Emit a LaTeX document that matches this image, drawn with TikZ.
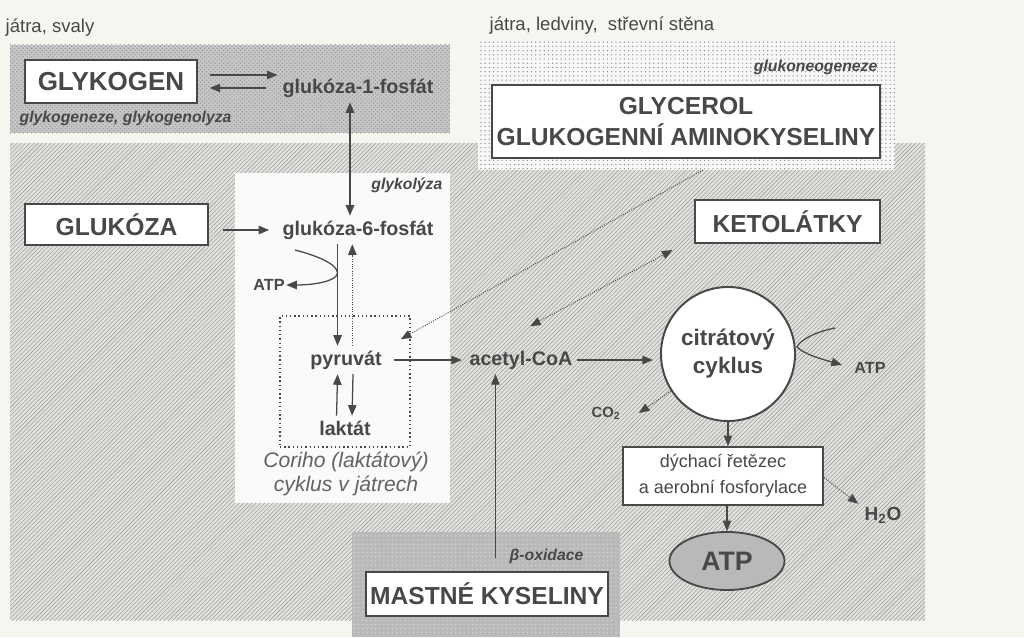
\documentclass[tikz,border=0pt]{standalone}
\usepackage{fontspec}
\setmainfont{Liberation Sans}
\usetikzlibrary{positioning, arrows.meta, patterns, shapes.geometric}
\definecolor{ink}{RGB}{72,72,72}
\definecolor{paper}{RGB}{246,245,240}
\definecolor{hatchbg}{RGB}{226,226,222}
\tikzset{
  bigbox/.style={draw=ink, line width=2pt, fill=white, text=ink, inner sep=0pt, align=center,
    font=\bfseries\fontsize{17.5}{22}\selectfont},
  metab/.style={text=ink, font=\bfseries\fontsize{14}{17}\selectfont},
  proc/.style={text=ink, font=\bfseries\itshape\fontsize{11.2}{13}\selectfont, inner sep=1pt},
  organ/.style={text=ink, font=\fontsize{13.2}{15}\selectfont, inner sep=1pt},
  atplab/.style={text=ink, font=\bfseries\fontsize{11.5}{13}\selectfont, inner sep=1pt},
  arr/.style={draw=ink, line width=0.9pt, -{Triangle[length=7.5pt,width=6pt]}},
  darr/.style={draw=ink, line width=0.9pt, {Triangle[length=7.5pt,width=6pt]}-{Triangle[length=7.5pt,width=6pt]}},
  dotarr/.style={draw=ink, line width=0.7pt, densely dotted, -{Triangle[length=7.5pt,width=6pt]}},
}
\begin{document}
\begin{tikzpicture}[x=0.025cm, y=-0.025cm]
\fill[paper] (0,0) rectangle (1024,637);
\useasboundingbox (0,0) rectangle (1024,637);

% zones
\fill[hatchbg] (10,143) rectangle (925,620);
\fill[pattern=north east lines, pattern color=gray!75] (10,143) rectangle (925,620);
\fill[gray!45] (10,45) rectangle (450,133);
\fill[pattern=crosshatch dots, pattern color=gray!85] (10,45) rectangle (450,133);
\fill[gray!6] (478,42) rectangle (895,170);
\fill[pattern=dots, pattern color=gray!90] (478,42) rectangle (895,170);
\fill[white!96!gray] (235,173) rectangle (450,503);
\fill[gray!55] (352,532) rectangle (620,637);
\fill[pattern=dots, pattern color=gray!30] (352,532) rectangle (620,637);

% nodes
\node[organ, anchor=west] (svaly) at (4,28) {játra, svaly};
\node[organ, anchor=west] (ledviny) at (488,26) {játra, ledviny,\ \ střevní stěna};
\node[bigbox, font=\bfseries\fontsize{18.5}{22}\selectfont, minimum width=4.3cm, minimum height=1.075cm] (glykogen) at (111,81.5) {GLYKOGEN};
\node[metab] (g1p) at (358,88) {glukóza-1-fosfát};
\node[proc, anchor=west] (glykgen) at (18,118) {glykogeneze, glykogenolyza};
\node[proc, anchor=east] (neo) at (879,67) {glukoneogeneze};
\node[bigbox, minimum width=9.7cm, minimum height=1.825cm] (glycerol) at (686,121.5) {GLYCEROL\\GLUKOGENNÍ AMINOKYSELINY};
\node[bigbox, minimum width=4.575cm, minimum height=1.025cm] (glukoza) at (116.5,224.5) {GLUKÓZA};
\node[proc, anchor=east] (glykolyza) at (444,185) {glykolýza};
\node[metab] (g6p) at (358,230) {glukóza-6-fosfát};
\node[atplab] (atp1) at (269,285) {ATP};
\node[draw=ink, line width=1pt, dotted, minimum width=3.25cm, minimum height=3.275cm] (cori) at (345,381.5) {};
\node[metab] (pyruvat) at (346,360) {pyruvát};
\node[metab] (laktat) at (345,428) {laktát};
\node[text=ink!85, font=\itshape\fontsize{15}{16.5}\selectfont, align=center] (corilab) at (346,474) {Coriho (laktátový)\\cyklus v játrech};
\node[metab] (acetyl) at (521,360) {acetyl-CoA};
\node[bigbox, minimum width=4.625cm, minimum height=1.075cm] (ketolatky) at (787.5,221.5) {KETOLÁTKY};
\node[circle, draw=ink, line width=1.4pt, fill=white, minimum size=3.35cm, text=ink, font=\bfseries\fontsize{16}{20}\selectfont, align=center] (citrat) at (728,354) {citrátový\\cyklus};
\node[atplab] (atp2) at (870,368) {ATP};
\node[atplab, font=\bfseries\fontsize{10.5}{12}\selectfont] (co2) at (606,413) {CO\textsubscript{2}};
\node[draw=ink, line width=1.3pt, fill=white, text=ink, align=center, font=\fontsize{12.8}{18.5}\selectfont, minimum width=5cm, minimum height=1.45cm] (dychaci) at (723,476) {dýchací řetězec\\a aerobní fosforylace};
\node[text=ink, font=\bfseries\fontsize{13.5}{15}\selectfont] (h2o) at (883,515) {H\textsubscript{2}O};
\node[ellipse, draw=ink, line width=1.3pt, fill=gray!55, text=ink, font=\bfseries\fontsize{19}{22}\selectfont, minimum width=2.875cm, minimum height=1.45cm] (atp) at (727,561) {ATP};
\node[proc, anchor=east] (beta) at (585,556) {β-oxidace};
\node[bigbox, minimum width=6.05cm, minimum height=1.1cm] (mastne) at (487,594) {MASTNÉ KYSELINY};
\coordinate (neoout) at (703,170);
\coordinate (atpin1) at (295,250);
\coordinate (atpin2) at (835,328);

% connectors
\draw[arr] ([xshift=8pt,yshift=4.6pt]glykogen.east) -- ([yshift=4.6pt]glykogen.east -| g1p.west);
\draw[arr] ([xshift=-8pt,yshift=-4.6pt]glykogen.east -| g1p.west) -- ([xshift=8pt,yshift=-4.6pt]glykogen.east);
\draw[darr] ([xshift=-5.7pt]g1p.south) -- ([xshift=-5.7pt]g6p.north);
\draw[arr, shorten >=6pt] ([xshift=10pt]glukoza.east |- g6p.west) -- (g6p.west);
\draw[arr] ([xshift=-6pt]pyruvat.north |- g6p.south) -- ([xshift=-6pt]pyruvat.north);
\draw[dotarr] ([xshift=4.5pt]pyruvat.north) -- ([xshift=4.5pt]pyruvat.north |- g6p.south);
\draw[arr] (atpin1) .. controls (318,256) and (337,264) .. (337.5,273) .. controls (337,281) and (315,285) .. (atp1.east);
\draw[arr] ([xshift=-6pt]laktat.north) -- ([xshift=-6pt]pyruvat.south);
\draw[arr] ([xshift=5pt]pyruvat.south) -- ([xshift=5pt]laktat.north);
\draw[arr, shorten <=5pt, shorten >=2pt] (pyruvat.east) -- (acetyl.west);
\draw[dotarr] (neoout) -- ([xshift=-7pt,yshift=-17pt]cori.north east);
\draw[dotarr, {Triangle[length=7.5pt,width=6pt]}-{Triangle[length=7.5pt,width=6pt]}] ([xshift=6.5pt,yshift=14pt]acetyl.north) -- ([xshift=-15pt,yshift=-4pt]ketolatky.south west);
\draw[arr, shorten >=5pt] (acetyl.east) -- (acetyl.east -| citrat.west);
\draw[arr] ([xshift=6pt,yshift=9pt]mastne.north) -- ([xshift=6pt]mastne.north |- acetyl.south);
\draw[arr, shorten >=8pt] (atpin2) .. controls (815,332) and (800,340) .. (797,347) .. controls (805,355) and (825,360) .. (atp2.west);
\draw[dotarr] (citrat.213) -- ([xshift=12pt]co2.east);
\draw[arr] (citrat.south) -- (citrat.south |- dychaci.north);
\draw[arr] (atp.north |- dychaci.south) -- (atp.north);
\draw[dotarr] ([yshift=-1pt]dychaci.east) .. controls (840,490) .. ([xshift=-1pt,yshift=8pt]h2o.west);
\end{tikzpicture}
\end{document}
